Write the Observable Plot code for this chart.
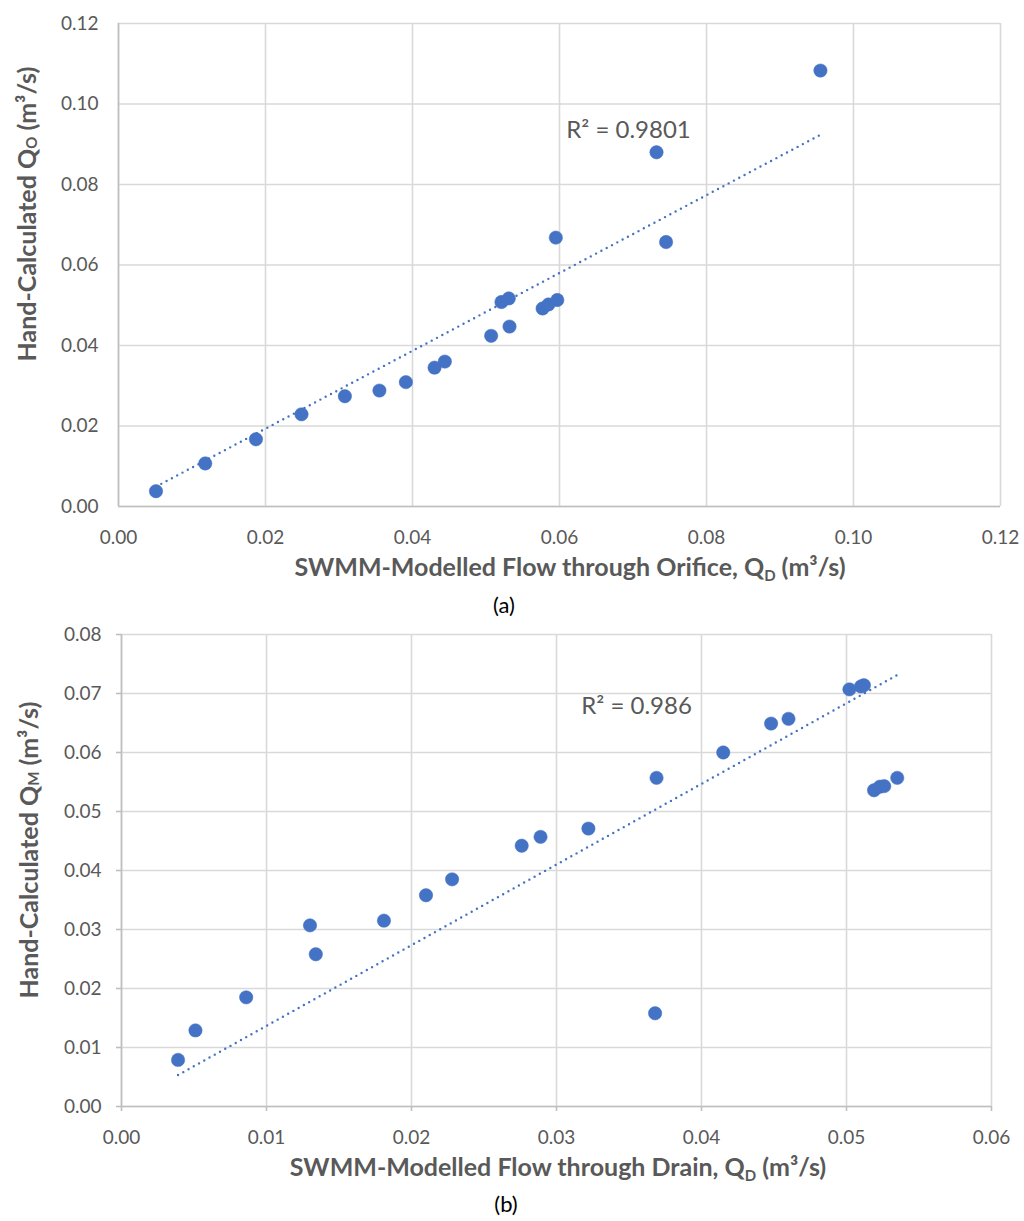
<!DOCTYPE html>
<html>
<head>
<meta charset="utf-8">
<script src="https://cdn.jsdelivr.net/npm/d3@7"></script>
<script src="https://cdn.jsdelivr.net/npm/@observablehq/plot@0.6"></script>
<style>
  html, body { margin: 0; padding: 0; background: #fff; }
  #wrap { position: relative; width: 1024px; height: 1221px; font-family: Lato, "Open Sans", sans-serif; background: #fff; }
  .chart { position: absolute; left: 0; z-index: 1; }
  .cap { position: absolute; width: 200px; text-align: center; font-size: 22px; color: #000; line-height: 26px; z-index: 5; }
</style>
</head>
<body>
<div id="wrap">
  <div id="chartA" class="chart" style="top:0px"></div>
  <div id="chartB" class="chart" style="top:600px"></div>
  <div class="cap" style="top:592px; left:404px;">(a)</div>
  <div class="cap" style="top:1191px; left:406px;">(b)</div>
</div>
<script>
// ---- Chart (a) data ----
const orificeQD = [0.0051,0.0118,0.0187,0.0249,0.0308,0.0355,0.0391,0.0430,0.0444,0.0507,0.0521,0.0531,0.0532,0.0577,0.0585,0.0597,0.0595,0.0732,0.0745,0.0955];
const handQO    = [0.0038,0.0107,0.0167,0.0229,0.0274,0.0288,0.0309,0.0345,0.0360,0.0424,0.0508,0.0517,0.0447,0.0492,0.0502,0.0513,0.0668,0.0880,0.0657,0.1083];
const xTicksA = [0,0.02,0.04,0.06,0.08,0.10,0.12];
const yTicksA = [0,0.02,0.04,0.06,0.08,0.10,0.12];
const trendSlopeA = 0.967;
const r2LabelA = "R² = 0.9801";

// ---- Chart (b) data ----
const drainQD = [0.0039,0.0051,0.0086,0.0130,0.0134,0.0181,0.0210,0.0228,0.0276,0.0289,0.0322,0.0369,0.0368,0.0415,0.0448,0.0460,0.0502,0.0510,0.0512,0.0519,0.0523,0.0526,0.0535];
const handQM  = [0.0079,0.0129,0.0185,0.0307,0.0258,0.0315,0.0358,0.0385,0.0442,0.0457,0.0471,0.0557,0.0158,0.0600,0.0649,0.0657,0.0707,0.0712,0.0714,0.0536,0.0542,0.0543,0.0557];
const xTicksB = [0,0.01,0.02,0.03,0.04,0.05,0.06];
const yTicksB = [0,0.01,0.02,0.03,0.04,0.05,0.06,0.07,0.08];
const trendSlopeB = 1.367;
const r2LabelB = "R² = 0.986";

const BLUE = "#4472C4";
const GRID = "#d9d9d9";
const AXIS = "#bfbfbf";
const TXT = "#595959";
const FONT = "Lato, 'Open Sans', sans-serif";
const fmt = d3.format(".2f");

function build({xs, ys, xTicks, yTicks, slope, r2, ml, mr, mt, mb, tickSize, r2dx, r2dy}) {
  const pts = xs.map((x, i) => ({x, y: ys[i]}));
  const [x0, x1] = d3.extent(xs);
  const trend = [{x: x0, y: slope * x0}, {x: x1, y: slope * x1}];
  return Plot.plot({
    width: 1024, height: 590,
    marginLeft: ml, marginRight: mr, marginTop: mt, marginBottom: mb,
    style: {fontFamily: FONT, fontSize: "19px", color: TXT, background: "transparent"},
    x: {domain: [xTicks[0], xTicks[xTicks.length - 1]]},
    y: {domain: [yTicks[0], yTicks[yTicks.length - 1]]},
    marks: [
      Plot.gridX(xTicks, {stroke: GRID, strokeOpacity: 1, strokeWidth: 1.6}),
      Plot.gridY(yTicks, {stroke: GRID, strokeOpacity: 1, strokeWidth: 1.6}),
      Plot.ruleX([xTicks[0]], {stroke: AXIS, strokeWidth: 1.6}),
      Plot.ruleY([yTicks[0]], {stroke: AXIS, strokeWidth: 1.6}),
      Plot.axisX({ticks: xTicks, tickFormat: fmt, tickSize: tickSize, tickPadding: 24 - tickSize, stroke: AXIS, strokeWidth: 1.6, label: null, fill: TXT}),
      Plot.axisY({ticks: yTicks, tickFormat: fmt, tickSize: tickSize, tickPadding: 20 - tickSize, stroke: AXIS, strokeWidth: 1.6, label: null, fill: TXT}),
      Plot.line(trend, {x: "x", y: "y", stroke: BLUE, strokeWidth: 2.4, strokeDasharray: "0,6", strokeLinecap: "round"}),
      Plot.dot(pts, {x: "x", y: "y", r: 6.7, fill: BLUE, stroke: BLUE, strokeWidth: 0.5}),
      Plot.text([r2], {text: d => d, frameAnchor: "top-left", lineAnchor: "middle", dx: r2dx, dy: r2dy, textAnchor: "middle", fontSize: 24, fill: TXT})
    ]
  });
}

function addTitles(svg, {xTitle, xSub, xCx, xBase, yTitle, ySub, yCx, yCy}) {
  const s = d3.select(svg);
  const tx = s.append("text")
    .attr("x", xCx).attr("y", xBase)
    .attr("text-anchor", "middle")
    .attr("font-family", FONT)
    .attr("font-weight", "bold").attr("font-size", 25).attr("fill", TXT);
  tx.append("tspan").text(xTitle);
  tx.append("tspan").attr("dy", 5).attr("font-size", 15).text(xSub);
  tx.append("tspan").attr("dy", -5).text(" (m³/s)");

  const ty = s.append("text")
    .attr("transform", `translate(${yCx},${yCy}) rotate(-90)`)
    .attr("text-anchor", "middle").attr("dominant-baseline", "central")
    .attr("font-family", FONT)
    .attr("font-weight", "bold").attr("font-size", 25).attr("fill", TXT);
  ty.append("tspan").text(yTitle);
  ty.append("tspan").attr("dy", 5).attr("font-size", 15).text(ySub);
  ty.append("tspan").attr("dy", -5).text(" (m³/s)");
}

const svgA = build({xs: orificeQD, ys: handQO, xTicks: xTicksA, yTicks: yTicksA, slope: trendSlopeA, r2: r2LabelA,
  ml: 118, mr: 24, mt: 23, mb: 84, tickSize: 0, r2dx: 510, r2dy: 107});
addTitles(svgA, {xTitle: "SWMM-Modelled Flow through Orifice, Q", xSub: "D", xCx: 570, xBase: 576,
  yTitle: "Hand-Calculated Q", ySub: "O", yCx: 26, yCy: 214});
document.getElementById("chartA").appendChild(svgA);

const svgB = build({xs: drainQD, ys: handQM, xTicks: xTicksB, yTicks: yTicksB, slope: trendSlopeB, r2: r2LabelB,
  ml: 121, mr: 33, mt: 34, mb: 84, tickSize: 5, r2dx: 515, r2dy: 72});
addTitles(svgB, {xTitle: "SWMM-Modelled Flow through Drain, Q", xSub: "D", xCx: 558, xBase: 576,
  yTitle: "Hand-Calculated Q", ySub: "M", yCx: 28, yCy: 250});
document.getElementById("chartB").appendChild(svgB);
</script>
</body>
</html>
